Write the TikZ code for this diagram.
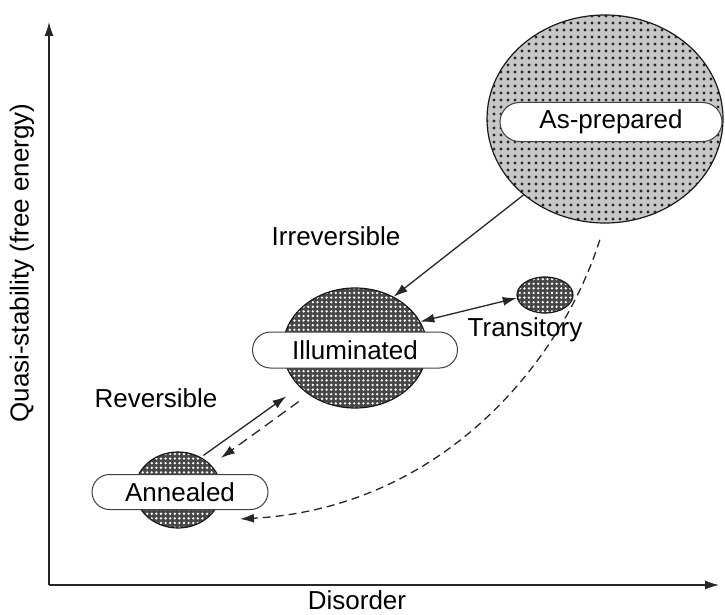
\documentclass[tikz,border=0pt]{standalone}
\usepackage{fontspec}
\setmainfont{Liberation Sans}
\usetikzlibrary{shapes.geometric, shapes.misc}
\usetikzlibrary{arrows.meta}
\usetikzlibrary{patterns.meta}

\tikzset{
  blob/.style={ellipse, draw=black!90, line width=1.2pt, inner sep=0pt},
  lightdots/.style={blob, preaction={fill=black!22},
    pattern={Dots[distance=6.5pt, radius=1.7pt]}, pattern color=black!85},
  darkdots/.style={blob, preaction={fill=black!72},
    pattern={Dots[distance=4.6pt, radius=1.3pt]}, pattern color=white},
  pill/.style={rounded rectangle, draw=black!75, line width=1pt, fill=white,
    inner sep=0pt},
  conn/.style={line width=1.3pt, draw=black!85},
  tip/.style={-{Latex[length=14pt, width=9pt]}},
  gap/.style={dash pattern=on 10pt off 6pt},
}

\begin{document}
\begin{tikzpicture}[x=1pt, y=-1pt, font=\fontsize{26}{30}\selectfont]
\useasboundingbox (0,0) rectangle (725,615);

% axes
\coordinate (O) at (49,585);
\coordinate (ytop) at (49,22);
\coordinate (xend) at (719,585);
\draw[conn, tip] (O) -- (ytop);
\draw[conn, tip] (O) -- (xend);
\node[rotate=90] (ylab) at (22,263) {Quasi-stability (free energy)};
\node (xlab) at (357,600) {Disorder};

% states
\node[lightdots, minimum width=236pt, minimum height=208pt] (prep) at (605,119) {};
\node[darkdots, minimum width=144pt, minimum height=120pt] (illum) at (355,348) {};
\node[darkdots, minimum width=56pt, minimum height=36pt] (trans) at (545,295) {};
\node[darkdots, minimum width=86pt, minimum height=76pt] (anneal) at (178,490) {};

\node[pill, minimum width=222pt, minimum height=39pt] (prepL) at (611,122) {As-prepared};
\node[pill, minimum width=205pt, minimum height=36pt] (illumL) at (355,350) {Illuminated};
\node[pill, minimum width=176pt, minimum height=35pt] (annealL) at (180,492) {Annealed};

% free labels
\foreach \n/\x/\y/\t in {irrev/336/236/Irreversible, rev/156/398/Reversible, transT/525/330/Transitory}
  \node (\n) at (\x,\y) {\t};

% transitions
\draw[conn, tip] (prep.223) -- (illum.53);
\draw[conn, {Latex[length=14pt, width=9pt]}-{Latex[length=14pt, width=9pt]}] (illum.22) -- (trans.186);
\draw[conn, tip, shorten <=3pt, shorten >=16pt] (anneal.55) -- (illum.215);
\draw[conn, tip, gap, shorten <=12pt, shorten >=12pt] (illum.225) -- (anneal.37);
\draw[conn, tip, dash pattern=on 8pt off 5pt, shorten <=17pt, shorten >=36pt]
  (prep.south) .. controls (560,365) and (440,508) .. (anneal.-50);

\end{tikzpicture}
\end{document}
